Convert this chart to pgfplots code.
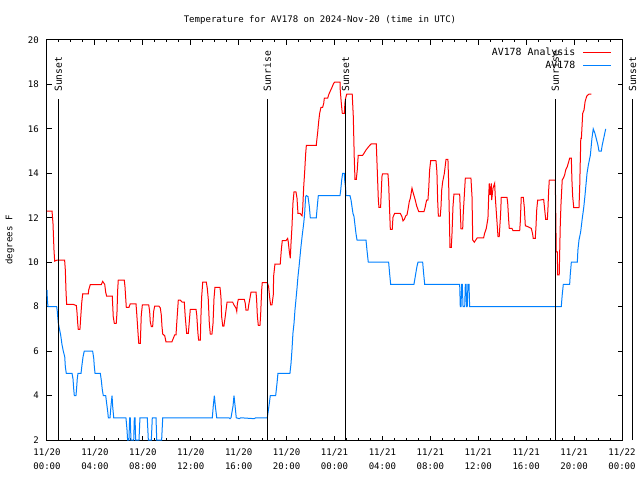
\documentclass[border=0pt]{standalone}
\usepackage{fontspec}
\setmainfont{DejaVu Sans Mono}
\usepackage{pgfplots}
\pgfplotsset{compat=1.18}
\definecolor{obsblue}{RGB}{0,128,255}

\begin{document}
\fontsize{9.05}{10.5}\selectfont
\begin{tikzpicture}
\useasboundingbox (-47pt,-40pt) rectangle (593pt,440pt);
\begin{axis}[
    at={(0pt,0pt)}, anchor=south west,
    scale only axis, width=575pt, height=400pt,
    xmin=0, xmax=48, ymin=2, ymax=20,
    clip=false,
    font=\fontsize{9.05}{10.5}\selectfont,
    /pgf/number format/assume math mode=true,
    axis line style={line width=1pt},
    every tick/.style={black, line width=1pt},
    tick align=inside,
    major tick length=4.5pt, minor tick length=2.3pt,
    xtick={0,4,...,48},
    xticklabels={11/20\\00:00, 11/20\\04:00, 11/20\\08:00, 11/20\\12:00,
        11/20\\16:00, 11/20\\20:00, 11/21\\00:00, 11/21\\04:00, 11/21\\08:00,
        11/21\\12:00, 11/21\\16:00, 11/21\\20:00, 11/22\\00:00},
    xticklabel style={align=center, font=\fontsize{9.05}{14}\selectfont, yshift=-6pt},
    minor x tick num=3,
    ytick={2,4,...,20},
    yticklabel style={xshift=-5pt},
    title={Temperature for AV178 on 2024-Nov-20 (time in UTC)},
    every axis title shift=0pt,
    title style={at={(axis description cs:0.4748,1)}, anchor=center, yshift=20pt},
    ylabel={degrees F},
    every axis y label/.style={at={(axis description cs:0,0.5)}, xshift=-37pt, rotate=90, anchor=center},
    legend plot pos=right,
    legend cell align=right,
    legend image code/.code={\draw[#1] (0pt,0pt) -- (28pt,0pt);},
    legend style={draw=none, fill=none, at={(axis description cs:1,1)}, anchor=north east,
        xshift=-10pt, yshift=-5.5pt, inner sep=0pt, row sep=0.5pt, column sep=5.5pt,
        font=\fontsize{9.9}{11}\selectfont},
]

% AV178 Analysis
\addplot[red, line width=1pt] coordinates {
(0,12.3) (0.42,12.3) (0.50,11.75) (0.58,10.58) (0.64,10.05) (0.87,10.1) (1.47,10.1) (1.53,9.65) (1.59,8.65) (1.64,8.1) (2.20,8.1) (2.45,8.05) (2.50,7.78) (2.56,7.28) (2.61,6.98) (2.75,6.98) (2.81,7.48) (2.90,8.18) (2.98,8.58) (3.45,8.58) (3.48,8.75) (3.61,8.99) (4.53,8.99) (4.65,9.14) (4.82,9.0) (4.90,8.65) (4.98,8.47) (5.45,8.47) (5.53,7.55) (5.62,7.25) (5.78,7.25) (5.84,7.7) (5.90,8.75) (5.95,9.2) (6.45,9.2) (6.51,8.9) (6.62,7.97) (6.84,7.97) (6.95,8.13) (7.43,8.13) (7.49,7.7) (7.60,6.8) (7.66,6.35) (7.79,6.35) (7.87,7.61) (7.96,8.08) (8.49,8.08) (8.57,7.78) (8.62,7.33) (8.71,7.1) (8.82,7.1) (8.90,7.78) (8.99,8.02) (9.35,8.02) (9.46,7.94) (9.54,7.63) (9.60,7.1) (9.66,6.77) (9.83,6.69) (9.93,6.42) (10.43,6.42) (10.49,6.5) (10.66,6.73) (10.77,6.73) (10.83,7.25) (10.96,8.29) (11.13,8.29) (11.27,8.21) (11.46,8.21) (11.54,7.55) (11.66,6.8) (11.80,6.8) (11.88,7.33) (11.96,7.88) (12.44,7.88) (12.50,7.63) (12.60,6.8) (12.66,6.49) (12.80,6.49) (12.85,7.55) (12.91,8.43) (13.00,9.1) (13.30,9.1) (13.38,8.83) (13.46,8.36) (13.55,7.25) (13.63,6.77) (13.77,6.77) (13.86,7.25) (13.94,8.36) (14.02,8.87) (14.44,8.87) (14.52,8.45) (14.58,7.55) (14.67,7.13) (14.77,7.13) (14.86,7.48) (14.97,7.95) (15.03,8.2) (15.50,8.2) (15.61,8.08) (15.78,7.93) (15.84,7.79) (15.89,8.12) (15.97,8.33) (16.47,8.33) (16.55,8.15) (16.61,7.85) (16.78,7.85) (16.84,8.08) (16.94,8.38) (17.03,8.65) (17.45,8.65) (17.50,8.3) (17.56,7.58) (17.64,7.16) (17.78,7.16) (17.84,7.7) (17.92,8.75) (17.97,9.08) (18.39,9.08) (18.50,8.9) (18.61,8.3) (18.67,8.08) (18.78,8.08) (18.89,8.53) (18.92,9.38) (19.03,9.92) (19.47,9.92) (19.56,10.55) (19.64,10.97) (19.95,10.97) (20.09,11.07) (20.14,10.92) (20.23,10.47) (20.31,10.18) (20.37,10.85) (20.45,11.6) (20.53,12.65) (20.62,13.17) (20.78,13.17) (20.87,12.88) (20.95,12.2) (21.12,12.2) (21.29,12.09) (21.34,12.35) (21.43,13.4) (21.51,14.07) (21.59,14.86) (21.65,15.26) (22.48,15.26) (22.51,15.43) (22.60,15.87) (22.68,16.33) (22.76,16.7) (22.87,16.97) (23.01,16.97) (23.10,17.15) (23.15,17.38) (23.43,17.38) (23.51,17.53) (23.62,17.67) (23.76,17.83) (23.93,18.05) (24.01,18.1) (24.46,18.1) (24.48,17.75) (24.57,17.15) (24.65,16.7) (24.82,16.7) (24.87,17.15) (24.93,17.38) (25.02,17.56) (25.48,17.56) (25.57,16.55) (25.65,14.68) (25.71,13.73) (25.82,13.73) (25.90,14.15) (25.98,14.81) (26.35,14.81) (26.46,14.9) (26.63,15.05) (26.85,15.2) (27.05,15.32) (27.49,15.32) (27.57,14.15) (27.66,12.8) (27.71,12.47) (27.85,12.47) (27.90,13.1) (27.96,13.85) (28.01,13.98) (28.46,13.98) (28.52,13.55) (28.60,12.35) (28.66,11.48) (28.82,11.48) (28.88,12.02) (29.02,12.2) (29.49,12.2) (29.63,12.05) (29.72,11.86) (29.83,11.93) (29.94,12.08) (30.05,12.13) (30.13,12.35) (30.24,12.72) (30.33,12.88) (30.47,13.33) (30.58,13.1) (30.74,12.8) (30.86,12.53) (31.03,12.28) (31.47,12.28) (31.55,12.43) (31.69,12.8) (31.80,12.8) (31.86,13.25) (31.94,14.15) (32.03,14.57) (32.47,14.57) (32.55,14.07) (32.61,12.8) (32.67,12.08) (32.83,12.08) (32.89,12.5) (32.95,13.25) (33.03,13.62) (33.17,14.0) (33.31,14.63) (33.47,14.63) (33.53,13.55) (33.61,11.45) (33.64,10.67) (33.75,10.67) (33.81,11.3) (33.89,12.5) (33.97,13.07) (34.45,13.07) (34.50,12.35) (34.56,11.5) (34.70,11.5) (34.75,12.2) (34.92,13.78) (35.39,13.78) (35.48,12.95) (35.54,11.0) (35.67,10.9) (35.92,11.1) (36.45,11.1) (36.53,11.3) (36.67,11.52) (36.81,11.98) (36.87,12.95) (36.92,13.55) (37.00,13.02) (37.09,13.55) (37.12,12.8) (37.23,13.33) (37.37,13.55) (37.42,12.95) (37.65,11.15) (37.75,11.15) (37.87,12.2) (37.92,12.92) (38.40,12.92) (38.46,12.65) (38.54,11.9) (38.59,11.52) (38.82,11.52) (38.90,11.42) (39.46,11.42) (39.51,11.82) (39.59,12.92) (39.76,12.92) (39.84,12.5) (39.93,11.64) (40.15,11.6) (40.43,11.52) (40.54,11.27) (40.59,11.07) (40.76,11.07) (40.82,11.6) (40.88,12.35) (40.96,12.8) (41.18,12.8) (41.46,12.83) (41.55,12.35) (41.63,11.93) (41.77,11.93) (41.82,12.43) (41.88,13.25) (41.93,13.7) (42.43,13.7) (42.46,12.62) (42.51,10.47) (42.60,10.47) (42.63,9.43) (42.76,9.43) (42.80,10.47) (42.85,11.75) (42.91,12.65) (43.01,13.7) (43.10,13.78) (43.21,13.92) (43.30,14.15) (43.43,14.3) (43.55,14.52) (43.63,14.68) (43.77,14.68) (43.82,13.7) (43.88,12.98) (43.97,12.46) (44.41,12.46) (44.47,13.4) (44.56,15.57) (44.61,15.57) (44.72,16.7) (44.83,16.85) (44.92,17.23) (45.06,17.48) (45.23,17.56) (45.44,17.56)
};
\addlegendentry{AV178 Analysis}

% AV178 observations
\addplot[obsblue, line width=1pt] coordinates {
(0,8.75) (0.03,8.33) (0.08,8) (0.81,8) (0.86,7.78) (0.94,7.28) (1.03,7.02) (1.14,6.73) (1.25,6.3) (1.36,6) (1.48,5.75) (1.53,5.3) (1.61,5) (2.09,5) (2.17,4.75) (2.23,4.3) (2.28,4) (2.42,4) (2.48,4.4) (2.53,4.78) (2.59,5) (2.84,5) (2.92,5.38) (3.01,5.75) (3.11,6) (3.81,6) (3.90,5.68) (3.95,5.3) (4.01,5) (4.45,5) (4.53,4.7) (4.62,4.25) (4.70,4) (4.90,4) (4.98,3.65) (5.07,3.27) (5.12,3) (5.26,3) (5.34,3.53) (5.43,4) (5.48,3.53) (5.57,3) (6.59,3) (6.68,2.45) (6.73,2) (6.84,2) (6.90,3) (6.95,3) (7.01,2) (7.24,2) (7.29,3) (7.35,3) (7.40,2) (7.68,2) (7.76,3) (8.37,3) (8.46,2) (8.71,2) (8.79,3) (9.10,3) (9.16,2) (9.57,2) (9.66,3) (13.80,3) (13.88,3.53) (13.97,4) (14.05,3.53) (14.17,3) (15.19,3) (15.28,2.96) (15.36,3) (15.53,3.53) (15.61,4) (15.72,3.43) (15.80,3) (16.05,2.96) (16.17,3) (17.30,2.96) (17.42,3) (18.39,3) (18.56,3.65) (18.64,4) (19.09,4) (19.20,4.55) (19.28,5) (20.28,5) (20.37,5.45) (20.45,6.05) (20.53,6.8) (20.62,7.25) (20.70,7.85) (20.78,8.3) (20.87,8.83) (20.95,9.35) (21.04,9.8) (21.12,10.25) (21.20,10.7) (21.31,11.23) (21.43,11.75) (21.51,12.2) (21.59,12.95) (21.65,13) (21.79,12.95) (21.90,12.5) (21.98,12) (22.48,12) (22.56,12.5) (22.65,13) (24.46,13) (24.52,13.25) (24.60,13.7) (24.68,14) (24.82,14) (24.85,13.7) (24.93,13.33) (24.96,13) (25.29,13) (25.38,12.8) (25.46,12.5) (25.54,12.2) (25.63,12.05) (25.71,11.67) (25.79,11.3) (25.88,11) (26.63,11) (26.71,10.55) (26.82,10) (28.52,10) (28.60,9.5) (28.69,9) (30.63,9) (30.74,9.35) (30.88,9.8) (30.97,10) (31.36,10) (31.44,9.5) (31.53,9) (34.45,9) (34.50,8) (34.56,8) (34.62,9) (34.67,9) (34.73,8) (34.87,8) (34.92,9) (34.98,9) (35.03,8) (35.08,8) (35.14,9) (35.23,9) (35.28,8) (42.93,8) (43.01,8.53) (43.10,9) (43.63,9) (43.68,9.43) (43.77,10) (44.27,10) (44.32,10.55) (44.41,11) (44.55,11.37) (44.69,12) (44.80,12.43) (44.91,13) (45.08,14) (45.19,14.37) (45.36,14.82) (45.49,15.57) (45.60,16) (45.74,15.8) (45.85,15.57) (45.99,15.27) (46.08,15) (46.27,15) (46.35,15.27) (46.47,15.57) (46.56,15.8) (46.64,16)
};
\addlegendentry{AV178}

% sunrise / sunset markers
\draw[black, line width=1pt] (axis cs:0.94,2) -- (axis cs:0.94,17.33);
\draw[black, line width=1pt] (axis cs:18.39,2) -- (axis cs:18.39,17.33);
\draw[black, line width=1pt] (axis cs:24.93,2) -- (axis cs:24.93,17.33);
\draw[black, line width=1pt] (axis cs:42.43,2) -- (axis cs:42.43,17.33);
\draw[black, line width=1pt] (axis cs:48.89,2) -- (axis cs:48.89,17.33);
\tikzset{sunlabel/.style={rotate=90, anchor=west, inner sep=0pt, font=\fontsize{9.7}{11}\selectfont}}
\node[sunlabel] at (axis cs:0.94,17.66) {Sunset};
\node[sunlabel] at (axis cs:18.39,17.66) {Sunrise};
\node[sunlabel] at (axis cs:24.93,17.66) {Sunset};
\node[sunlabel] at (axis cs:42.43,17.66) {Sunrise};
\node[sunlabel] at (axis cs:48.89,17.66) {Sunset};
\end{axis}
\end{tikzpicture}
\end{document}
